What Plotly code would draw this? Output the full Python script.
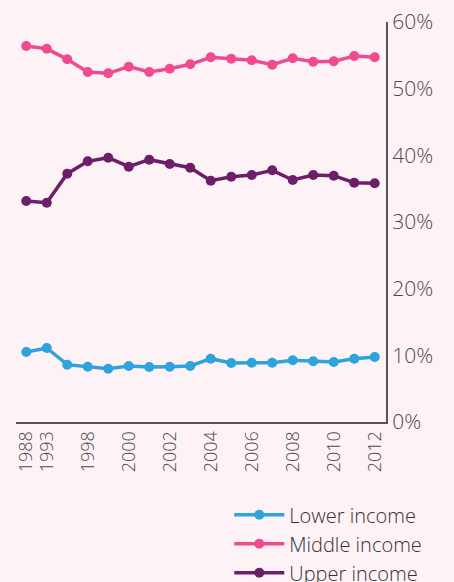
import plotly.graph_objects as go

years = ["1988", "1993", "1996", "1998", "1999", "2000", "2001", "2002", "2003",
         "2004", "2005", "2006", "2007", "2008", "2009", "2010", "2011", "2012"]
tick_years = ["1988", "1993", "1998", "2000", "2002", "2004", "2006", "2008", "2010", "2012"]
y_ticks = [0, 10, 20, 30, 40, 50, 60]

lower = [10.5, 11.1, 8.6, 8.3, 8.0, 8.4, 8.25, 8.3, 8.4, 9.5, 8.85, 8.9, 8.9, 9.25, 9.1, 9.0, 9.5, 9.75]
middle = [56.4, 56.0, 54.4, 52.5, 52.3, 53.3, 52.5, 53.0, 53.65, 54.7, 54.5, 54.25, 53.6, 54.55, 54.05, 54.1, 54.9, 54.7]
upper = [33.15, 32.9, 37.25, 39.1, 39.65, 38.3, 39.35, 38.7, 38.15, 36.2, 36.8, 37.05, 37.75, 36.3, 37.05, 36.95, 35.9, 35.8]

series = [("Lower income", lower, "#2ea3dd"),
          ("Middle income", middle, "#ef4b8f"),
          ("Upper income", upper, "#6c1f68")]

fig = go.Figure()
for name, vals, col in series:
    fig.add_trace(go.Scatter(x=years, y=vals, name=name, mode="lines+markers",
                             line=dict(color=col, width=3.5),
                             marker=dict(color=col, size=10)))

bg = "#fdf3f7"
fig.update_layout(
    width=454, height=582,
    paper_bgcolor=bg, plot_bgcolor=bg,
    margin=dict(l=16, r=68, t=22, b=160, autoexpand=False),
    font=dict(family="Open Sans", color="#4a4a4a", size=18, weight=300),
    showlegend=True,
    legend=dict(xref="container", yref="paper", x=0.505, y=-0.183,
                xanchor="left", yanchor="top", bgcolor="rgba(0,0,0,0)",
                font=dict(size=20, color="#333333", weight=300), tracegroupgap=0,
                itemwidth=50),
    xaxis=dict(type="category", categoryorder="array", categoryarray=years,
               range=[-0.5, 17.55], tickmode="array", tickvals=tick_years,
               ticktext=tick_years, tickangle=-90, showgrid=False,
               showline=True, linecolor="#555555", linewidth=2,
               ticks="", tickfont=dict(size=18, color="#4a4a4a", weight=300),
               zeroline=False, automargin=False),
    yaxis=dict(side="right", range=[0, 60], tickmode="array", tickvals=y_ticks,
               ticktext=[f"{v}%" for v in y_ticks], showgrid=False, showline=True,
               linecolor="#555555", linewidth=2, ticks="", zeroline=False,
               tickfont=dict(size=21, color="#4a4a4a", weight=300), automargin=False),
)
fig.write_html("out.html", config={"displayModeBar": False},
               post_script="document.body.style.margin='0';document.body.style.background='%s';" % bg)
